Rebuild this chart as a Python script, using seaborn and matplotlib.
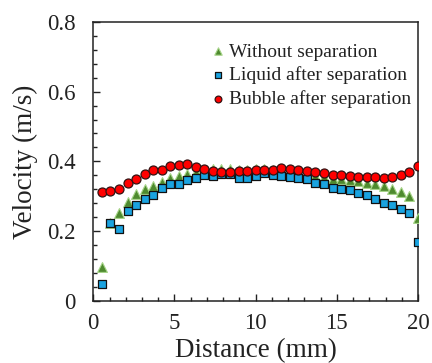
import matplotlib
matplotlib.use("Agg")
import matplotlib.pyplot as plt
from matplotlib.ticker import MultipleLocator
import seaborn as sns
import pandas as pd

distance = [0.53, 1.05, 1.58, 2.11, 2.63, 3.16, 3.68, 4.21, 4.74, 5.26,
            5.79, 6.32, 6.84, 7.37, 7.89, 8.42, 8.95, 9.47, 10.0, 10.53,
            11.05, 11.58, 12.11, 12.63, 13.16, 13.68, 14.21, 14.74, 15.26, 15.79,
            16.32, 16.84, 17.37, 17.89, 18.42, 18.95, 19.47, 20.0]

without_sep = [0.098, 0.222, 0.253, 0.283, 0.305, 0.321, 0.329, 0.342, 0.351, 0.357,
               0.365, 0.370, 0.375, 0.378, 0.378, 0.378, 0.375, 0.375, 0.378, 0.378,
               0.376, 0.375, 0.372, 0.368, 0.363, 0.358, 0.355, 0.350, 0.348, 0.346,
               0.343, 0.338, 0.335, 0.329, 0.321, 0.312, 0.300, 0.236]

liquid_sep = [0.047, 0.224, 0.207, 0.258, 0.276, 0.293, 0.304, 0.323, 0.335, 0.335,
              0.346, 0.352, 0.362, 0.359, 0.364, 0.365, 0.352, 0.352, 0.357, 0.367,
              0.362, 0.357, 0.355, 0.352, 0.350, 0.338, 0.335, 0.324, 0.321, 0.317,
              0.310, 0.302, 0.292, 0.281, 0.276, 0.262, 0.252, 0.169]

bubble_sep = [0.311, 0.314, 0.321, 0.337, 0.350, 0.365, 0.376, 0.376, 0.386, 0.389,
              0.392, 0.383, 0.378, 0.373, 0.369, 0.369, 0.371, 0.373, 0.376, 0.374,
              0.376, 0.381, 0.379, 0.376, 0.371, 0.369, 0.367, 0.362, 0.360, 0.357,
              0.355, 0.354, 0.354, 0.352, 0.355, 0.360, 0.370, 0.386]

series_names = ["Without separation", "Liquid after separation", "Bubble after separation"]
x_ticks = [0, 5, 10, 15, 20]
x_tick_labels = ["0", "5", "10", "15", "20"]
y_ticks = [0, 0.2, 0.4, 0.6, 0.8]
y_tick_labels = ["0", "0.2", "0.4", "0.6", "0.8"]

df = pd.DataFrame({
    "Distance": distance * 3,
    "Velocity": without_sep + liquid_sep + bubble_sep,
    "Series": [series_names[0]] * len(distance) + [series_names[1]] * len(distance)
              + [series_names[2]] * len(distance),
})

sns.set_style("white")
plt.rcParams["font.family"] = ["Liberation Serif", "DejaVu Serif"]

fig = plt.figure(figsize=(4.32, 3.63), dpi=100)
ax = fig.add_axes([0.216, 0.1716, 0.7516, 0.7678])

styles = {
    series_names[0]: dict(marker="^", s=50, color="#4e8a2e", edgecolor="#a6d488", linewidth=0.8),
    series_names[1]: dict(marker="s", s=27, color="#1aa3e0", edgecolor="#111111", linewidth=0.9),
    series_names[2]: dict(marker="o", s=42, color="#ff0000", edgecolor="#331111", linewidth=0.9),
}
for name in series_names:
    sub = df[df["Series"] == name]
    sns.scatterplot(data=sub, x="Distance", y="Velocity", ax=ax, label=name,
                    zorder=3, **styles[name])

ax.set_xlim(0, 20)
ax.set_ylim(0, 0.8)
ax.xaxis.set_minor_locator(MultipleLocator(1))
ax.yaxis.set_minor_locator(MultipleLocator(0.04))
ax.set_yticks(y_ticks)
ax.set_yticklabels(y_tick_labels)
ax.set_xticks(x_ticks)
ax.set_xticklabels(x_tick_labels)
ax.tick_params(axis="both", which="major", direction="in", length=5, width=1,
               labelsize=16.5, color="#222222", labelcolor="#222222")
ax.tick_params(axis="x", which="major", pad=9)
ax.tick_params(axis="y", which="major", pad=13)
ax.tick_params(axis="both", which="minor", direction="in", length=3, width=1,
               color="#222222")
ax.tick_params(top=False, right=False, which="both", left=True, bottom=True)
for sp in ax.spines.values():
    sp.set_color("#222222")
    sp.set_linewidth(1.1)

ax.set_xlabel("Distance (mm)", fontsize=19.5, color="#222222", labelpad=3)
ax.set_ylabel("Velocity (m/s)", fontsize=19.5, color="#222222", labelpad=6)

leg = ax.legend(loc="upper left", bbox_to_anchor=(0.353, 0.925), frameon=False,
                fontsize=14, handletextpad=0.1, labelspacing=0.3,
                markerscale=0.75, borderaxespad=0, borderpad=0, handlelength=1.0)
for t in leg.get_texts():
    t.set_color("#222222")

fig.savefig("out.png", dpi=100)
